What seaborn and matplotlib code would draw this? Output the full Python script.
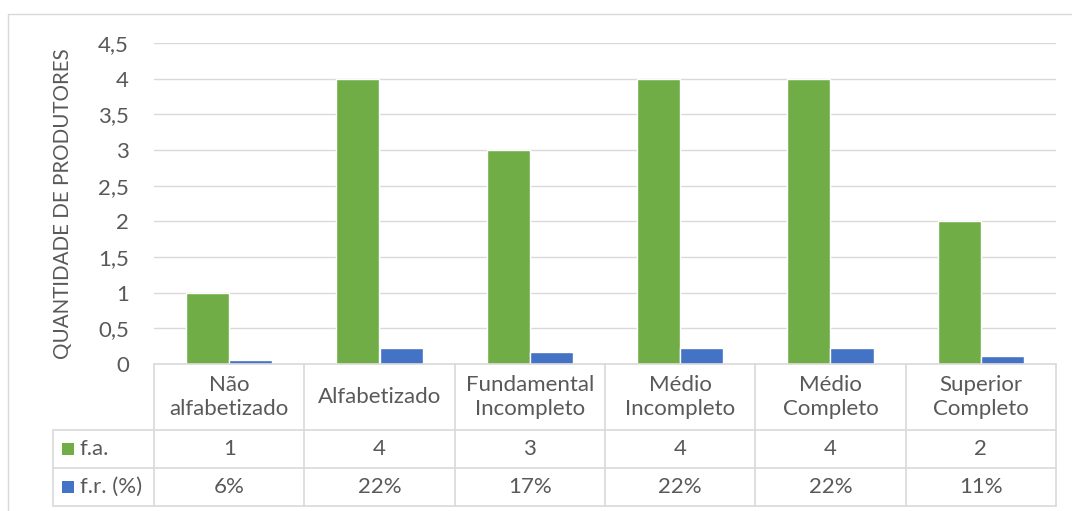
import matplotlib
matplotlib.use("Agg")
import matplotlib.pyplot as plt
from matplotlib.patches import Rectangle
import seaborn as sns
import pandas as pd

categories = ["Não\nalfabetizado", "Alfabetizado", "Fundamental\nIncompleto",
              "Médio\nIncompleto", "Médio\nCompleto", "Superior\nCompleto"]
fa_values = [1, 4, 3, 4, 4, 2]
fr_values = [0.06, 0.22, 0.17, 0.22, 0.22, 0.11]
series_names = ["f.a.", "f.r. (%)"]
y_ticks = [0, 0.5, 1, 1.5, 2, 2.5, 3, 3.5, 4, 4.5]
y_tick_labels = ["0", "0,5", "1", "1,5", "2", "2,5", "3", "3,5", "4", "4,5"]
y_label = "QUANTIDADE DE PRODUTORES"

GREEN = "#70AD47"
BLUE = "#4472C4"
TEXT = "#595959"
GRID = "#D9D9D9"
FS = 16

sns.set_theme(style="white")
plt.rcParams["font.family"] = ["Lato", "DejaVu Sans"]

df = pd.DataFrame({
    "cat": categories * 2,
    "series": [series_names[0]] * len(categories) + [series_names[1]] * len(categories),
    "value": fa_values + fr_values,
})

W, H = 1072, 511
fig = plt.figure(figsize=(W / 100, H / 100), dpi=100)
x0, x1, y0, y1 = 154, 1056, 364, 43
ax = fig.add_axes([x0 / W, 1 - y0 / H, (x1 - x0) / W, (y0 - y1) / H])

sns.barplot(data=df, x="cat", y="value", hue="series", order=categories,
            hue_order=series_names, palette=[GREEN, BLUE], width=0.573,
            gap=0, ax=ax, legend=False, errorbar=None, saturation=1)

ax.set_ylim(0, 4.5)
ax.set_xlim(-0.5, len(categories) - 0.5)
ax.set_yticks(y_ticks)
ax.set_yticklabels(y_tick_labels, color=TEXT, fontsize=FS)
ax.tick_params(axis="y", length=0, pad=18)
ax.set_xticks([])
ax.set_xlabel("")
ax.set_ylabel(y_label, color=TEXT, fontsize=14.8, labelpad=18)
ax.yaxis.grid(True, color=GRID, linewidth=1)
ax.set_axisbelow(True)
for s in ax.spines.values():
    s.set_visible(False)


def fx(px):
    return px / W


def fy(py):
    return 1 - py / H


bounds = [x0 + i * (x1 - x0) / len(categories) for i in range(len(categories) + 1)]
row_y = [364, 430, 468, 506]
lc = GRID
lw = 1.2
fig.add_artist(plt.Line2D([fx(x0), fx(x1)], [fy(364), fy(364)], color=lc, lw=lw))
for yy in row_y[1:]:
    fig.add_artist(plt.Line2D([fx(53), fx(x1)], [fy(yy), fy(yy)], color=lc, lw=lw))
for bx in bounds:
    fig.add_artist(plt.Line2D([fx(bx), fx(bx)], [fy(364), fy(506)], color=lc, lw=lw))
fig.add_artist(plt.Line2D([fx(53), fx(53)], [fy(430), fy(506)], color=lc, lw=lw))

for i, cat in enumerate(categories):
    cx = fx((bounds[i] + bounds[i + 1]) / 2)
    fig.text(cx, fy(397), cat, ha="center", va="center", color=TEXT,
             fontsize=FS, linespacing=1.2)
    fig.text(cx, fy(449), f"{fa_values[i]}", ha="center", va="center",
             color=TEXT, fontsize=FS)
    fig.text(cx, fy(487), f"{round(fr_values[i] * 100)}%", ha="center",
             va="center", color=TEXT, fontsize=FS)

for yc, col, name in [(449, GREEN, series_names[0]), (487, BLUE, series_names[1])]:
    fig.add_artist(Rectangle((fx(62), fy(yc + 6)), 12 / W, 12 / H,
                             facecolor=col, edgecolor="none",
                             transform=fig.transFigure))
    fig.text(fx(80), fy(yc), name, ha="left", va="center", color=TEXT,
             fontsize=FS)

fig.add_artist(plt.Line2D([fx(8), fx(W)], [fy(14), fy(14)], color=GRID, lw=1))
fig.add_artist(plt.Line2D([fx(8), fx(8)], [fy(14), fy(H)], color=GRID, lw=1))

fig.savefig("out.png", dpi=100)
